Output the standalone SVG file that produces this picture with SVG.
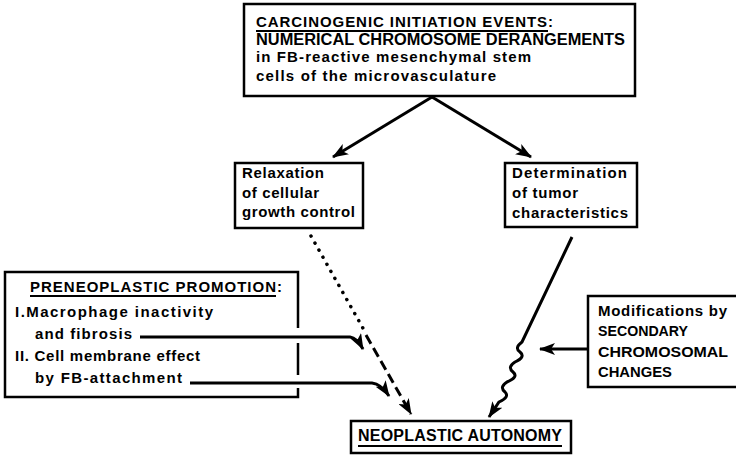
<svg xmlns="http://www.w3.org/2000/svg" width="736" height="455" viewBox="0 0 736 455">
<defs>
<style>
.box{fill:none;stroke:#000;stroke-width:2.5}
.t{font-family:"Liberation Sans",Arial,sans-serif;font-weight:bold;fill:#000}
.ln{fill:none;stroke:#000;stroke-width:3}
.ul{stroke:#000;stroke-width:1.8}
</style>
<marker id="ah" viewBox="0 0 16 12" refX="15" refY="6" markerWidth="16" markerHeight="12" markerUnits="userSpaceOnUse" orient="auto">
<path d="M0,0 L16,6 L0,12 L4,6 Z" fill="#000"/>
</marker>
</defs>
<rect width="736" height="455" fill="#fff"/>

<g id="initiation">
<rect class="box" x="244" y="4" width="391" height="92"/>
<text class="t" x="256" y="27" font-size="15" textLength="297">CARCINOGENIC  INITIATION  EVENTS:</text>
<line class="ul" x1="256" y1="31" x2="548" y2="31"/>
<text class="t" x="256" y="45" font-size="16" textLength="369" lengthAdjust="spacingAndGlyphs">NUMERICAL CHROMOSOME DERANGEMENTS</text>
<text class="t" x="256" y="62" font-size="15" textLength="275">in FB-reactive mesenchymal stem</text>
<text class="t" x="256" y="81" font-size="15" textLength="240">cells of the microvasculature</text>
</g>

<g id="relaxation">
<rect class="box" x="235" y="163" width="128" height="65"/>
<text class="t" x="242" y="178" font-size="15" textLength="82">Relaxation</text>
<text class="t" x="242" y="198" font-size="15" textLength="77">of cellular</text>
<text class="t" x="242" y="217" font-size="15" textLength="113">growth control</text>
</g>

<g id="determination">
<rect class="box" x="505" y="163" width="132" height="64"/>
<text class="t" x="512" y="178" font-size="15" textLength="115">Determination</text>
<text class="t" x="512" y="198" font-size="15" textLength="66">of tumor</text>
<text class="t" x="512" y="218" font-size="15" textLength="116">characteristics</text>
</g>

<g id="preneoplastic">
<path class="box" d="M298,328 L298,272 L5,272 L5,397 L298,397 L298,388 M298,343 L298,375"/>
<text class="t" x="30" y="292" font-size="15" textLength="252">PRENEOPLASTIC  PROMOTION:</text>
<line class="ul" x1="30" y1="296" x2="276" y2="296"/>
<text class="t" x="15" y="317" font-size="15" textLength="198">I.Macrophage inactivity</text>
<text class="t" x="35" y="339" font-size="15" textLength="97">and fibrosis</text>
<text class="t" x="15" y="361" font-size="15" textLength="185">II. Cell membrane effect</text>
<text class="t" x="35" y="383" font-size="15" textLength="147">by FB-attachment</text>
</g>

<g id="modifications">
<path class="box" d="M740,296 L588,296 L588,387 L740,387"/>
<text class="t" x="598" y="316" font-size="15" textLength="129">Modifications by</text>
<text class="t" x="598" y="336" font-size="15" textLength="90" lengthAdjust="spacingAndGlyphs">SECONDARY</text>
<text class="t" x="598" y="357" font-size="15" textLength="130" lengthAdjust="spacingAndGlyphs">CHROMOSOMAL</text>
<text class="t" x="598" y="377" font-size="15" textLength="74" lengthAdjust="spacingAndGlyphs">CHANGES</text>
</g>

<g id="autonomy">
<rect class="box" x="351" y="421" width="220" height="32"/>
<text class="t" x="358" y="441" font-size="16" textLength="204">NEOPLASTIC  AUTONOMY</text>
<line class="ul" x1="358" y1="446" x2="562" y2="446"/>
</g>

<g id="connectors">
<line class="ln" x1="432" y1="97" x2="333" y2="157" marker-end="url(#ah)"/>
<line class="ln" x1="432" y1="97" x2="531" y2="157" marker-end="url(#ah)"/>
<line x1="311" y1="236" x2="364" y2="330" stroke="#000" stroke-width="3.5" stroke-linecap="round" stroke-dasharray="0.1 8"/>
<path class="ln" d="M366,335 L411,414" stroke-dasharray="10 5" marker-end="url(#ah)"/>
<path class="ln" d="M140,337 L350,337 Q357,338 363,349" marker-end="url(#ah)"/>
<path class="ln" d="M190,383 L372,383 Q381,384 389,396" marker-end="url(#ah)"/>
<path class="ln" stroke-width="2.5" d="M572,237 L522,342 Q514,348 520,352 Q526,357 515,362 Q507,367 513,372 Q519,377 507,382 Q499,387 505,392 Q510,397 499,402 L489,417" marker-end="url(#ah)"/>
<line class="ln" x1="588" y1="349" x2="540" y2="349" marker-end="url(#ah)"/>
</g>
</svg>
